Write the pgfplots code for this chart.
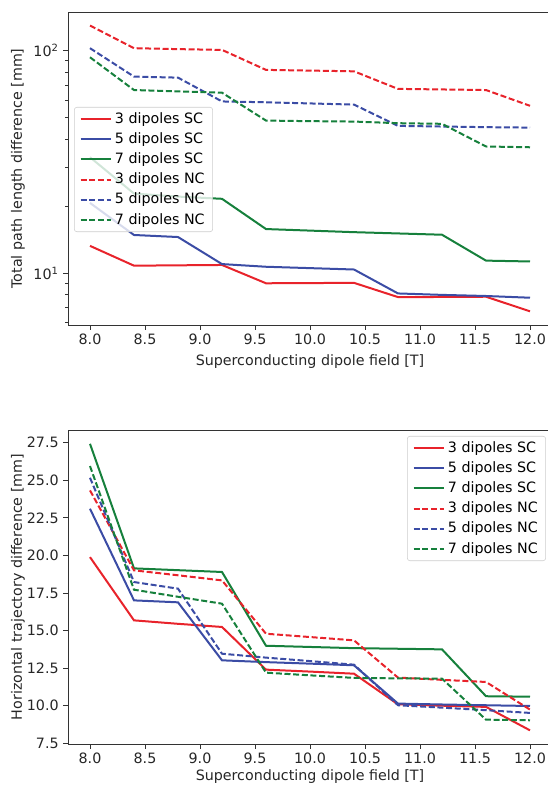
\documentclass[border=0pt]{standalone}
\usepackage{fontspec}
\setmainfont{DejaVu Sans}
\usepackage{pgfplots}
\pgfplotsset{compat=1.18}
\definecolor{CRed}{HTML}{E8232B}
\definecolor{CBlue}{HTML}{3B4CA5}
\definecolor{CGreen}{HTML}{16803C}
\newcommand{\fs}{\fontsize{10.7}{12.8}\selectfont}

\pgfplotstableread{
x    sc3   sc5   sc7   nc3   nc5   nc7
8.0  13.28 20.7  33.2  129.5 102.5 93.3
8.4  10.82 14.86 22.8  102.5 76.4  66.5
8.8  10.86 14.55 22.1  101.5 75.6  65.6
9.2  10.9  11.0  21.6  100.7 59.1  64.7
9.6  9.02  10.7  15.8  81.9  58.6  48.5
10.0 9.04  10.55 15.55 81.3  57.9  48.2
10.4 9.06  10.4  15.3  80.7  57.2  48.0
10.8 7.82  8.12  15.1  67.3  45.9  47.2
11.2 7.83  8.0   14.9  66.9  45.6  46.9
11.6 7.85  7.91  11.4  66.5  45.3  37.1
12.0 6.75  7.77  11.3  56.5  45.1  36.8
}\toptable

\pgfplotstableread{
x    sc3   sc5   sc7   nc3   nc5   nc7
8.0  19.89 23.11 27.43 24.33 25.17 25.95
8.4  15.68 17.01 19.14 19.01 18.23 17.72
8.8  15.45 16.88 19.02 18.68 17.79 17.25
9.2  15.24 13.02 18.90 18.34 13.46 16.79
9.6  12.40 12.9  13.99 14.79 13.2  12.20
10.0 12.27 12.8  13.91 14.57 12.97 12.02
10.4 12.13 12.69 13.83 14.35 12.73 11.85
10.8 10.09 10.14 13.79 11.87 10.03 11.82
11.2 10.0  10.08 13.75 11.72 9.87  11.80
11.6 9.92  10.03 10.63 11.58 9.70  9.07
12.0 8.36  9.98  10.60 9.74  9.52  9.03
}\bottable

\pgfplotsset{
  mpl/.style={
    scale only axis, width=363pt,
    xmin=7.8, xmax=12.2,
    xtick={8,8.5,...,12},
    xticklabels={8.0,8.5,9.0,9.5,10.0,10.5,11.0,11.5,12.0},
    axis line style={black!80, line width=0.6pt},
    tick style={black!80, line width=0.6pt},
    major tick length=3.5pt, minor tick length=2pt,
    tick align=outside, xtick pos=bottom, ytick pos=left,
    /pgf/number format/assume math mode=true,
    tick label style={font=\fs, text=black!85},
    label style={font=\fs, text=black!85},
    xlabel={Superconducting dipole field [T]},
    xlabel style={at={(axis description cs:0.5,-0.117)}, anchor=center},
    ylabel style={at={(axis description cs:-0.1033,0.5)}, anchor=center, rotate=0},
    legend cell align=left,
    legend image code/.code={\draw[#1] (0pt,0pt) -- (23pt,0pt);},
    legend style={font=\fs, draw=black!20, rounded corners=2pt, fill=white,
      fill opacity=0.8, text opacity=1, draw opacity=1,
      inner xsep=4pt, inner ysep=2.3pt, row sep=1.4pt},
    every axis plot/.append style={line width=1.5pt},
  },
  ds/.style={dash pattern=on 4.5pt off 2pt},
}

\begin{document}
\begin{tikzpicture}
\path[use as bounding box, clip] (-51pt,9pt) rectangle (360pt,-580.5pt);

\begin{axis}[mpl, at={(0pt,0pt)}, anchor=north west, height=234.75pt,
  ymode=log, ymin=5.86, ymax=149,
  ytick={10,100}, yticklabels={10\textsuperscript{1},10\textsuperscript{2}},
  minor ytick={6,7,8,9,20,30,40,50,60,70,80,90},
  ylabel={Total path length difference [mm]},
  legend style={at={(rel axis cs:0.0124,0.6965)}, anchor=north west}]
\addplot[CRed] table[x=x,y=sc3] {\toptable};
\addlegendentry{3 dipoles SC}
\addplot[CBlue] table[x=x,y=sc5] {\toptable};
\addlegendentry{5 dipoles SC}
\addplot[CGreen] table[x=x,y=sc7] {\toptable};
\addlegendentry{7 dipoles SC}
\addplot[CRed,ds] table[x=x,y=nc3] {\toptable};
\addlegendentry{3 dipoles NC}
\addplot[CBlue,ds] table[x=x,y=nc5] {\toptable};
\addlegendentry{5 dipoles NC}
\addplot[CGreen,ds] table[x=x,y=nc7] {\toptable};
\addlegendentry{7 dipoles NC}
\end{axis}

\begin{axis}[mpl, at={(0pt,-313.5pt)}, anchor=north west, height=235.5pt,
  ymin=7.45, ymax=28.35,
  ytick={7.5,10,...,27.5},
  yticklabels={7.5,10.0,12.5,15.0,17.5,20.0,22.5,25.0,27.5},
  ylabel={Horizontal trajectory difference [mm]},
  xlabel style={at={(axis description cs:0.5,-0.104)}},
  legend style={at={(rel axis cs:0.9876,0.981)}, anchor=north east}]
\addplot[CRed] table[x=x,y=sc3] {\bottable};
\addlegendentry{3 dipoles SC}
\addplot[CBlue] table[x=x,y=sc5] {\bottable};
\addlegendentry{5 dipoles SC}
\addplot[CGreen] table[x=x,y=sc7] {\bottable};
\addlegendentry{7 dipoles SC}
\addplot[CRed,ds] table[x=x,y=nc3] {\bottable};
\addlegendentry{3 dipoles NC}
\addplot[CBlue,ds] table[x=x,y=nc5] {\bottable};
\addlegendentry{5 dipoles NC}
\addplot[CGreen,ds] table[x=x,y=nc7] {\bottable};
\addlegendentry{7 dipoles NC}
\end{axis}
\end{tikzpicture}
\end{document}
